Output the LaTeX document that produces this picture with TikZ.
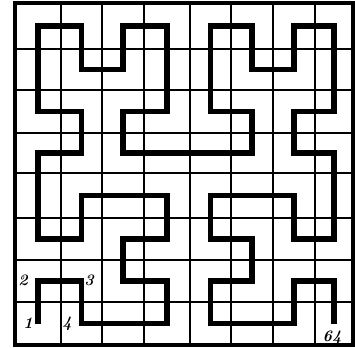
\documentclass[tikz,border=0pt]{standalone}
\begin{document}
\begin{tikzpicture}[x=1pt,y=-1pt,
  gridline/.style={line width=2.6pt,black},
  border/.style={line width=3.2pt,black},
  curve/.style={line width=5.5pt,black,line join=miter,line cap=butt},
  lab/.style={font=\fontsize{16}{16}\selectfont\bfseries\itshape,inner sep=0pt}]
\useasboundingbox (0,0) rectangle (355,347);
% grid
\foreach \x in {61,102,144,190,231,273,315}
  \draw[gridline] (\x,3) -- (\x,345);
\foreach \y in {49,90,133,173,218,260,302}
  \draw[gridline] (15,\y) -- (353,\y);
\draw[border] (15,3) rectangle (353,345);
% cell centres
\foreach \i/\x in {0/38,1/81.5,2/123,3/167,4/210.5,5/252,6/294,7/334}
  \foreach \j/\y in {0/323.5,1/281,2/239,3/195.5,4/153,5/111.5,6/69.5,7/26}
    \coordinate (p\i\j) at (\x,\y);
% Hilbert curve
\draw[curve] (p00) -- (p01) -- (p11) -- (p10) -- (p30) -- (p31) -- (p21) -- (p22)
  -- (p32) -- (p33) -- (p13) -- (p12) -- (p02) -- (p04) -- (p14) -- (p15)
  -- (p05) -- (p07) -- (p17) -- (p16) -- (p26) -- (p27) -- (p37) -- (p35)
  -- (p25) -- (p24) -- (p54) -- (p55) -- (p45) -- (p47) -- (p57) -- (p56)
  -- (p66) -- (p67) -- (p77) -- (p75) -- (p65) -- (p64) -- (p74) -- (p72)
  -- (p62) -- (p63) -- (p43) -- (p42) -- (p52) -- (p51) -- (p41) -- (p40)
  -- (p60) -- (p61) -- (p71) -- (p70);
% labels
\node[lab] (l1) at (28,323) {1};
\node[lab] (l2) at (23,280) {2};
\node[lab] (l3) at (89,280) {3};
\node[lab] (l4) at (67,324) {4};
\node[lab] (l64) at (332,338) {64};
\end{tikzpicture}
\end{document}
